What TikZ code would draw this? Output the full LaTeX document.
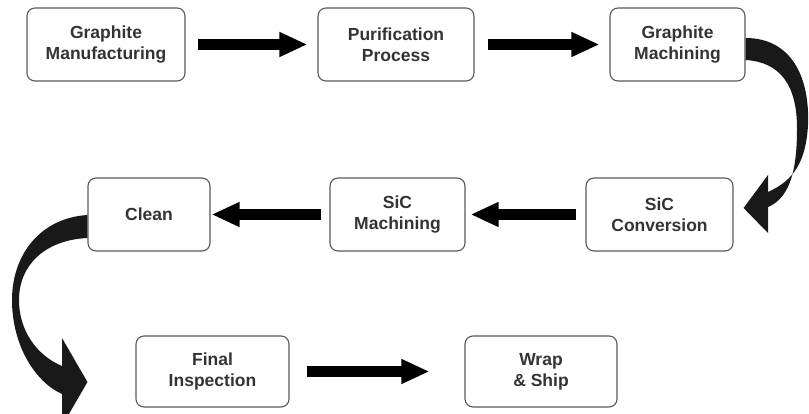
\documentclass[tikz,border=0pt]{standalone}
\usepackage{fontspec}
\setmainfont{Liberation Sans}
\usetikzlibrary{arrows.meta,calc}
\begin{document}
\begin{tikzpicture}[x=1pt, y=-1pt, main node/.style={draw=black!65, rounded corners=8pt, line width=1.1pt, minimum height=73pt, align=center, inner sep=0pt, text=black!80, font=\bfseries\fontsize{17.5}{21}\selectfont}, big arrow/.style={line width=11pt, -{Triangle[length=28pt,width=23pt]}}, bent arrow/.style={fill=black!90, draw=none}]
\path[use as bounding box, clip] (0,0) rectangle (809,414);
\begin{scope}
\node [main node, minimum width=158pt](gm) at (106,44.5) {Graphite\\Manufacturing};
\node [main node, minimum width=156pt](pp) at (396,44.5) {Purification\\Process};
\node [main node, minimum width=135pt](gmach) at (677.5,44.5) {Graphite\\Machining};
\node [main node, minimum width=147pt](conv) at (659.5,214.5) {SiC\\Conversion};
\node [main node, minimum width=135pt](smach) at (397.5,214.5) {SiC\\Machining};
\node [main node, minimum width=122pt](clean) at (149,214.5) {Clean};
\node [main node, minimum width=153pt, minimum height=71pt](fi) at (212.5,371.5) {Final\\Inspection};
\node [main node, minimum width=152pt, minimum height=71pt](ws) at (541,371.5) {Wrap\\\& Ship};
\end{scope}
\coordinate (ctip) at ($(fi.west)+(-48,10.5)$);
\path
	(gm) edge [big arrow, shorten <=12pt, shorten >=10pt] (pp)
	(pp) edge [big arrow, shorten <=13pt, shorten >=10pt] (gmach)
	(conv) edge [big arrow, shorten <=9pt, shorten >=5pt] (smach)
	(smach) edge [big arrow, shorten <=8pt, shorten >=1pt] (clean)
	(fi) edge [big arrow, shorten <=17pt, shorten >=35pt] (ws)
	;
% curved arrows
\fill[bent arrow] ($(gmach.east)+(0,-6.5)$) .. controls (790,38) and (810,75) .. (808,125)
	.. controls (806,160) and (795,180) .. (768,192) -- (768,175) -- ($(conv.east)+(10,-6.5)$)
	-- (768,233) -- (768,207) .. controls (792,197) and (797,165) .. (797,128)
	.. controls (797,85) and (780,62) .. ($(gmach.east)+(0,15.5)$) -- cycle;
\fill[bent arrow] ($(clean.west)+(0,0.5)$) .. controls (40,218) and (12,255) .. (12,300)
	.. controls (12,345) and (35,382) .. (62,394) -- (62,426) -- (ctip) -- (62,338)
	-- (62,366) .. controls (36,355) and (19,330) .. (19,300)
	.. controls (19,265) and (45,240) .. ($(clean.west)+(0,23.5)$) -- cycle;
\end{tikzpicture}
\end{document}
